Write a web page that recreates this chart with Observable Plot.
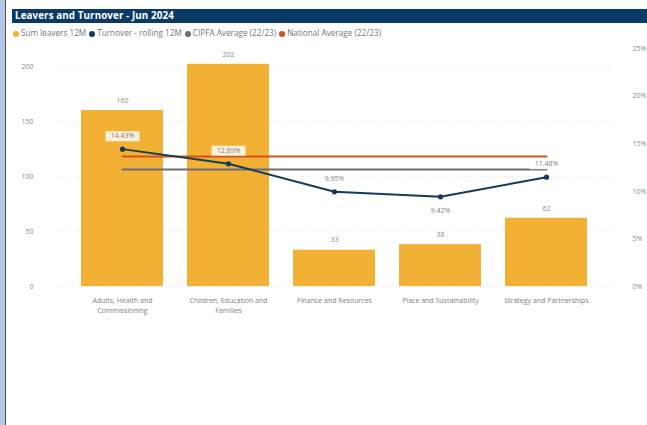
<!DOCTYPE html>
<html>
<head>
<meta charset="utf-8">
<script src="https://cdn.jsdelivr.net/npm/d3@7"></script>
<script src="https://cdn.jsdelivr.net/npm/@observablehq/plot@0.6"></script>
<style>
  html, body { margin: 0; padding: 0; background: #fff; }
  #wrap { position: relative; width: 647px; height: 425px; overflow: hidden; background: #fff; font-family: "Open Sans", sans-serif; }
  #strip { position: absolute; left: 0; top: 0; width: 5px; height: 425px; background: #b4c7e7; border-right: 1px solid #555; }
  #title { position: absolute; left: 12px; top: 9px; right: 0; height: 14px; background: #0b3a66; color: #fff; font-weight: 700; font-size: 9.8px; line-height: 14px; padding-left: 3px; letter-spacing: 0.1px; }
  #legend { position: absolute; left: 13px; top: 27px; font-size: 8.2px; color: #777; white-space: nowrap; line-height: 12px; }
  #legend span.item { margin-right: 3px; }
  #legend span.sw { display: inline-block; width: 6px; height: 6px; border-radius: 50%; margin-right: 2px; vertical-align: -0.5px; }
  #chart { position: absolute; left: 0; top: 40px; }
</style>
</head>
<body>
<div id="wrap">
  <div id="strip"></div>
  <div id="title">Leavers and Turnover - Jun 2024</div>
  <div id="legend"></div>
  <div id="chart"></div>
</div>
<script>
const categories = ["Adults, Health and Commissioning", "Children, Education and Families", "Finance and Resources", "Place and Sustainability", "Strategy and Partnerships"];
const tickLabels = ["Adults, Health and\nCommissioning", "Children, Education and\nFamilies", "Finance and Resources", "Place and Sustainability", "Strategy and Partnerships"];
const leavers = [160, 202, 33, 38, 62];
const turnover = [14.43, 12.89, 9.95, 9.42, 11.48];
const cipfaAverage = 12.3;
const nationalAverage = 13.65;
const leftTicks = [0, 50, 100, 150, 200];
const rightTicks = [0, 5, 10, 15, 20, 25];
const seriesNames = ["Sum leavers 12M", "Turnover - rolling 12M", "CIPFA Average (22/23)", "National Average (22/23)"];
const seriesColors = ["#f2b134", "#123b5c", "#6e6e6e", "#d4501f"];

// secondary axis (percent) mapped onto primary scale units
const leftMax = 216.4, rightMax = 25;
const k = leftMax / rightMax;

const rows = categories.map((c, i) => ({cat: c, leavers: leavers[i], pct: turnover[i], label: turnover[i].toFixed(2) + "%"}));
const minPct = d3.min(turnover);
const above = rows.filter(d => d.pct !== minPct);
const below = rows.filter(d => d.pct === minPct);
const avgRows = (v) => categories.map(c => ({cat: c, v: v * k}));

// legend
const legend = document.getElementById("legend");
seriesNames.forEach((n, i) => {
  const s = document.createElement("span");
  s.className = "item";
  s.innerHTML = `<span class="sw" style="background:${seriesColors[i]}"></span>${n}`;
  legend.appendChild(s);
});

const boxSymbol = { draw(ctx) { ctx.rect(-17, -5, 34, 10); } };
const labelMap = new Map(categories.map((c, i) => [c, tickLabels[i]]));

const chart = Plot.plot({
  width: 647,
  height: 385,
  marginLeft: 57,
  marginRight: 36,
  marginTop: 8,
  marginBottom: 139,
  style: { fontFamily: "Open Sans, sans-serif", fontSize: "7px", color: "#777", overflow: "visible" },
  x: { domain: categories, padding: 0.226, label: null },
  y: { domain: [0, leftMax], label: null },
  marks: [
    Plot.gridY(leftTicks, { stroke: "#e6e6e6", strokeOpacity: 1, strokeDasharray: "1,2" }),
    Plot.axisY(leftTicks, { anchor: "left", tickSize: 0, tickPadding: 24, fill: "#8a8a8a", fontSize: 7, label: null }),
    Plot.axisY(rightTicks.map(p => p * k), { anchor: "right", tickSize: 0, tickPadding: 21, fill: "#8a8a8a", fontSize: 7, textAnchor: "start", tickFormat: v => Math.round(v / k) + "%", label: null }),
    Plot.axisX({ tickSize: 0, tickPadding: 9, fill: "#808080", fontSize: 7, tickFormat: c => labelMap.get(c), lineHeight: 1.5, label: null }),
    Plot.barY(rows, { x: "cat", y: "leavers", fill: seriesColors[0] }),
    Plot.text(rows, { x: "cat", y: "leavers", text: d => String(d.leavers), dy: -10, fill: "#8a8a8a", fontSize: 7 }),
    Plot.line(avgRows(nationalAverage), { x: "cat", y: "v", stroke: seriesColors[3], strokeWidth: 2 }),
    Plot.line(avgRows(cipfaAverage), { x: "cat", y: "v", stroke: seriesColors[2], strokeWidth: 2 }),
    Plot.line(rows, { x: "cat", y: d => d.pct * k, stroke: seriesColors[1], strokeWidth: 2 }),
    Plot.dot(rows, { x: "cat", y: d => d.pct * k, r: 2.6, fill: seriesColors[1], stroke: null }),
    Plot.dot(above, { x: "cat", y: d => d.pct * k, dy: -13, symbol: boxSymbol, r: 5, fill: "white", fillOpacity: 0.82, stroke: null }),
    Plot.text(above, { x: "cat", y: d => d.pct * k, dy: -13, text: "label", fill: "#808080", fontSize: 7 }),
    Plot.text(below, { x: "cat", y: d => d.pct * k, dy: 14, text: "label", fill: "#808080", fontSize: 7 })
  ]
});
document.getElementById("chart").appendChild(chart);
</script>
</body>
</html>
